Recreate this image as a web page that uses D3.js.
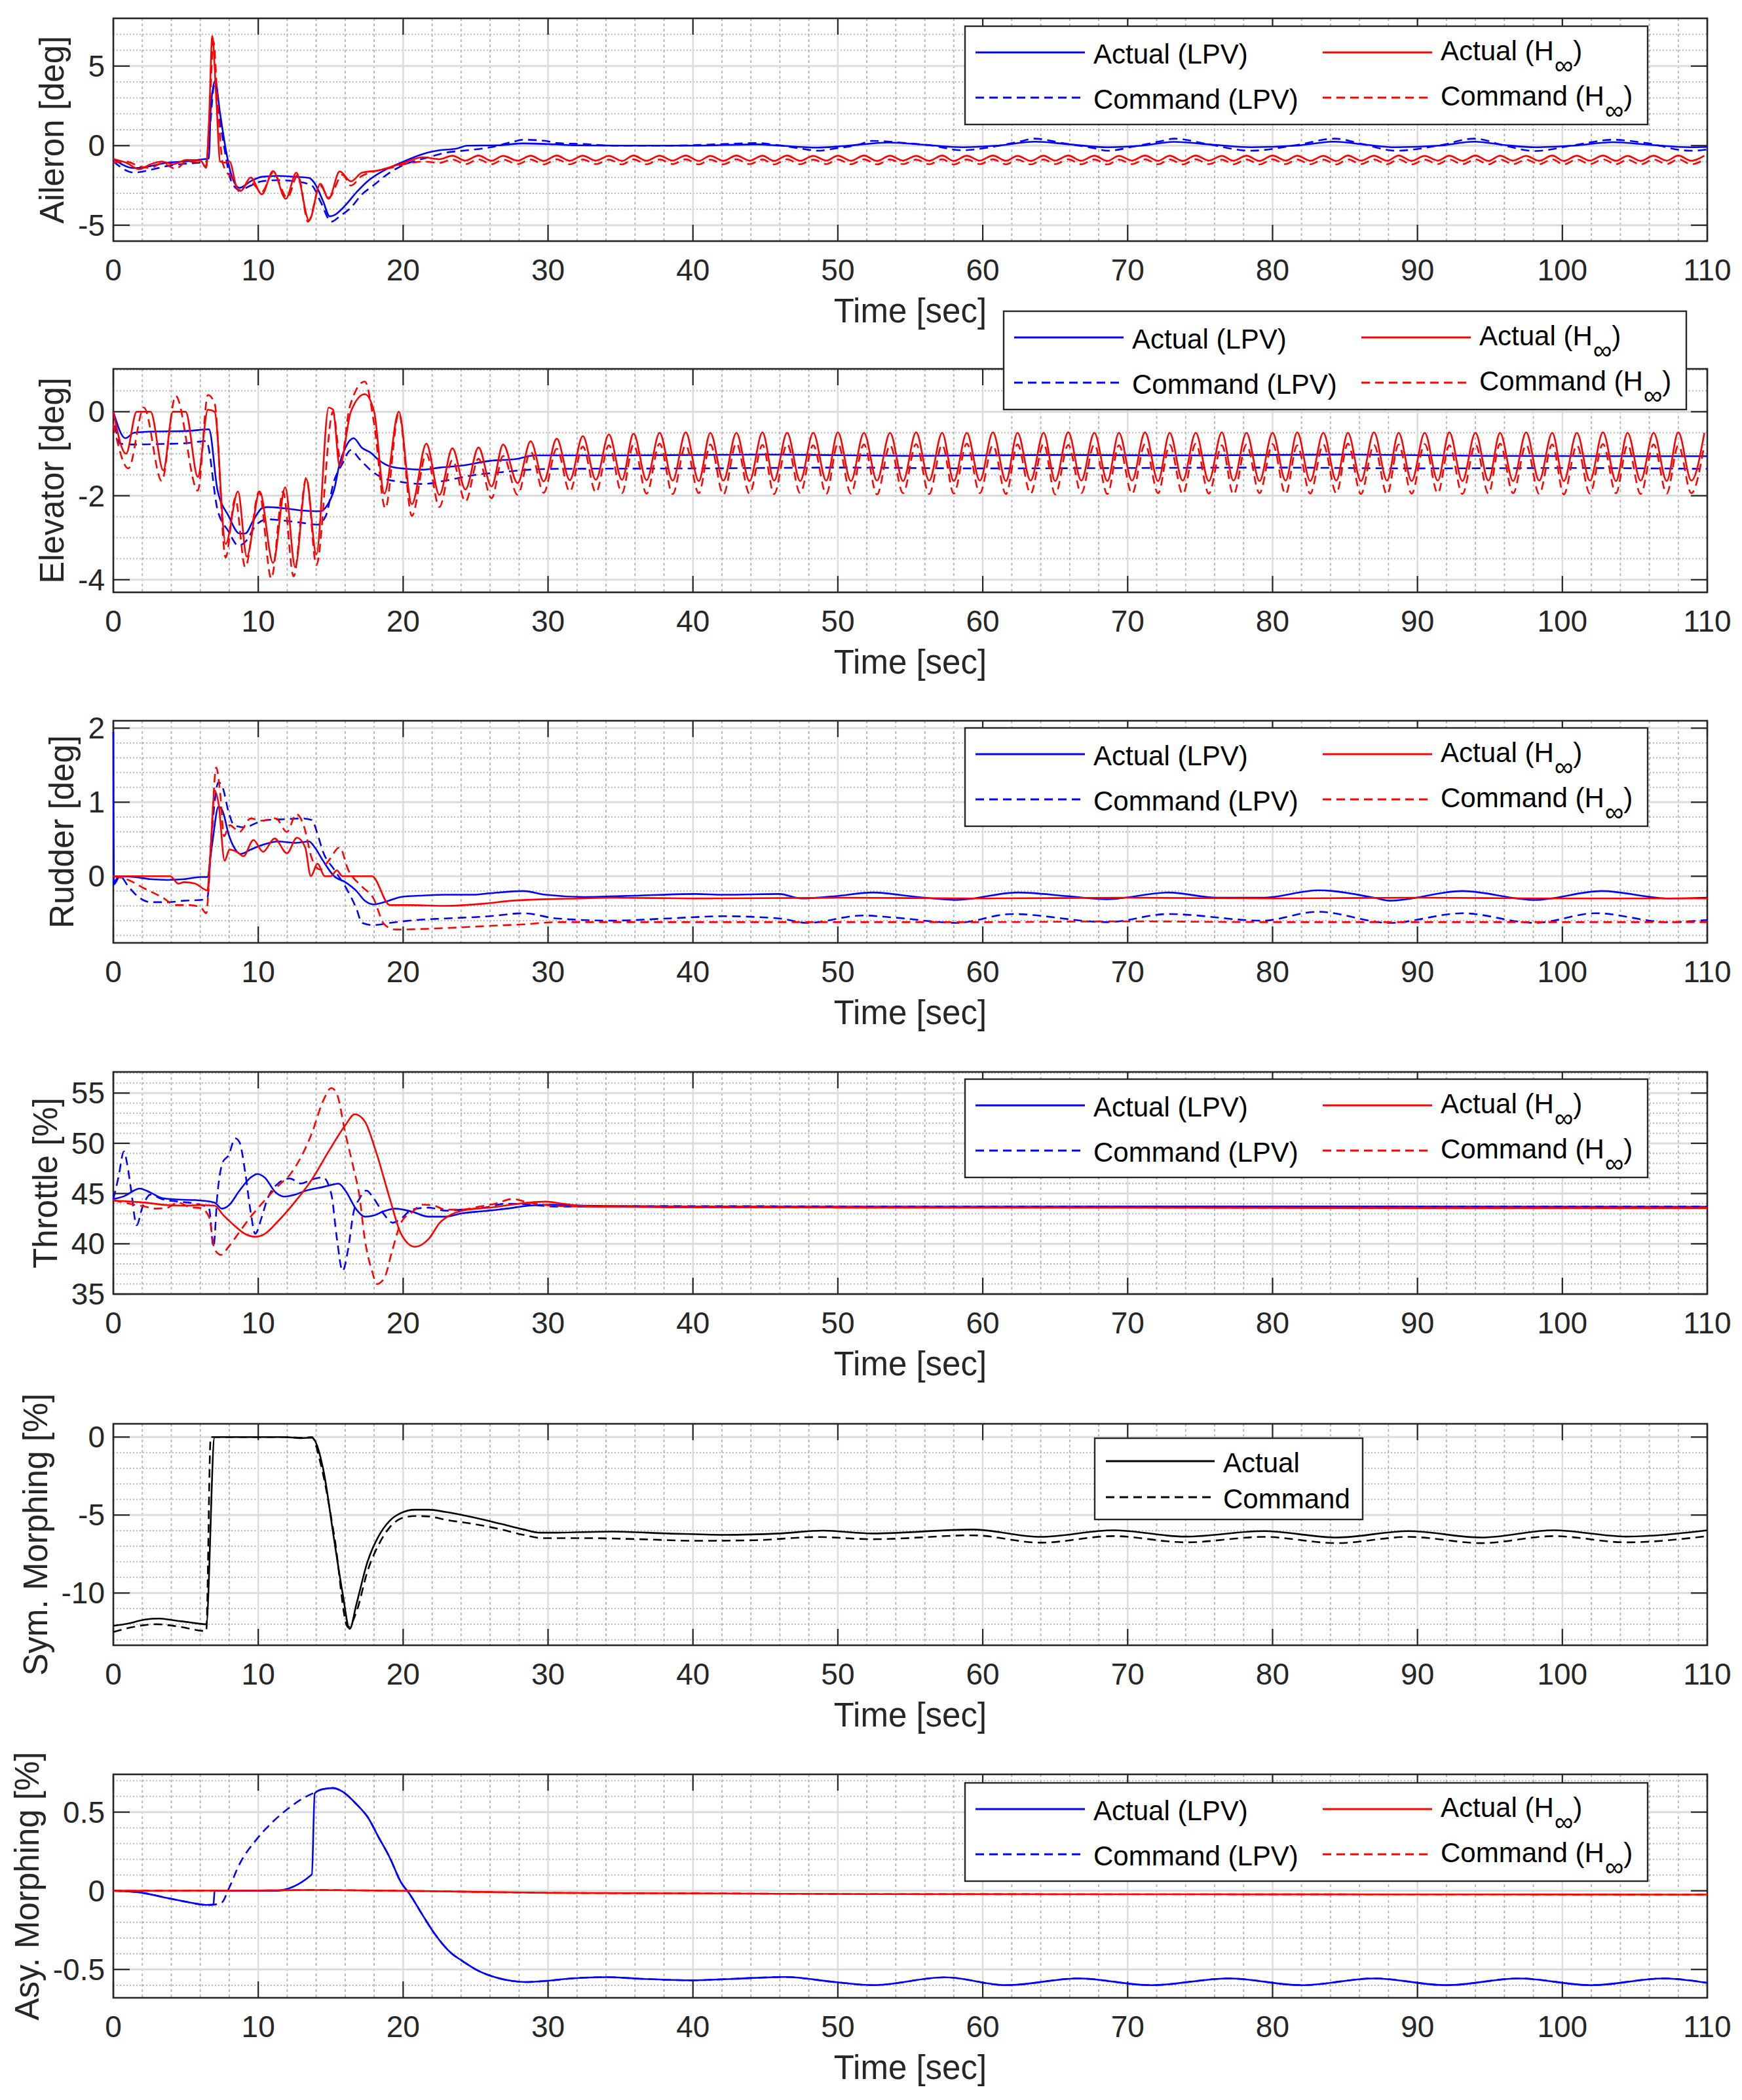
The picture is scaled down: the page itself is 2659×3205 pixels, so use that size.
<!DOCTYPE html>
<html>
<head>
<meta charset="utf-8">
<script src="https://cdn.jsdelivr.net/npm/d3@7"></script>
<style>
  body { margin: 0; background: #fff; }
</style>
</head>
<body>
<svg id="chart"></svg>
<script>
// ---------- Data ----------

// time axis
const timeTicks = [0, 10, 20, 30, 40, 50, 60, 70, 80, 90, 100, 110];

// peak / trough instants of the steady oscillation (shared by the H-inf tails)
const tOsc = [
  19.7, 20.6, 21.6, 22.5, 23.4, 24.3, 25.2, 26.1, 26.9, 27.9,
  28.8, 29.7, 30.6, 31.5, 32.4, 33.3, 34.2, 35.1, 35.9, 36.8,
  37.7, 38.6, 39.5, 40.4, 41.2, 42.1, 43.0, 43.9, 44.8, 45.6,
  46.5, 47.4, 48.3, 49.2, 50.0, 50.9, 51.8, 52.7, 53.6, 54.5,
  55.4, 56.3, 57.2, 58.0, 58.9, 59.8, 60.7, 61.6, 62.4, 63.3,
  64.2, 65.0, 65.9, 66.8, 67.7, 68.6, 69.4, 70.3, 71.2, 72.1,
  72.9, 73.8, 74.7, 75.6, 76.5, 77.3, 78.2, 79.1, 80.0, 80.9,
  81.7, 82.6, 83.5, 84.4, 85.2, 86.1, 87.0, 87.9, 88.7, 89.6,
  90.5, 91.4, 92.2, 93.1, 94.0, 94.9, 95.7, 96.6, 97.5, 98.4,
  99.3, 100.1, 101.0, 101.9, 102.8, 103.7, 104.5, 105.4, 106.3, 107.2,
  108.0, 108.9, 109.8
];

// Aileron [deg]
const aileronTicks = [-5, 0, 5];
const ailLpvAct = [[0,-0.84],[1.42,-1.41],[2.57,-1.28],[3.72,-1.07],[4.88,-1.0],[6.03,-0.87],[6.6,-0.8],[6.72,2.3],[7.02,4.08],[7.37,2.0],[7.75,-0.18],[8.14,-1.83],[8.71,-2.65],[9.48,-2.24],[10.25,-1.96],[11.4,-1.9],[12.55,-1.96],[13.51,-2.03],[13.9,-2.38],[14.47,-3.48],[14.93,-4.44],[15.24,-4.37],[16.01,-3.75],[16.78,-2.93],[17.54,-2.24],[18.7,-1.55],[19.85,-1.07],[21.38,-0.52],[22.53,-0.29],[23.69,-0.18],[24.45,0],[26.5,0.02],[28.3,0.14],[30.0,0.1],[32,0.02],[35,0],[40,0],[44.4,0.08],[46,0],[48.6,-0.12],[50.5,-0.02],[53.5,0.2],[56,0.05],[58.6,-0.1],[61,0],[63.6,0.25],[66,0.08],[68.6,-0.1],[71,0],[73.2,0.24],[76,0.05],[78.5,-0.1],[81.6,0],[84.3,0.25],[86.5,0.05],[88.5,-0.1],[91.5,0],[93.9,0.25],[96.2,0.02],[98.1,-0.1],[100.8,0],[103.5,0.22],[106,0.05],[108.8,-0.1],[110,-0.08]];
const ailLpvCmd = [[0,-1.0],[1.42,-1.69],[2.76,-1.48],[3.72,-1.28],[4.88,-1.14],[6.03,-1.07],[6.41,-1.0],[6.7,1.5],[6.95,3.74],[7.56,0.37],[8.14,-2.24],[8.71,-2.79],[9.48,-2.51],[10.25,-2.24],[11.4,-2.17],[12.55,-2.24],[13.7,-2.51],[14.28,-3.48],[15.05,-4.78],[15.62,-4.44],[16.39,-3.89],[17.16,-3.06],[17.93,-2.51],[19.08,-1.69],[20.23,-1.14],[21.77,-0.73],[22.92,-0.45],[24.45,-0.29],[25.99,-0.11],[27.52,0.23],[28.29,0.37],[29.83,0.3],[30.6,0.16],[32.5,0.1],[34.4,0],[38.3,0],[42.1,0.1],[44.4,0.16],[45.9,0.03],[47.9,-0.25],[48.6,-0.32],[49.8,-0.18],[51.3,0.03],[52.4,0.3],[54.7,0.16],[56.3,0.03],[58.6,-0.29],[60.9,-0.04],[62.4,0.23],[63.6,0.44],[65.5,0.16],[67.8,-0.18],[68.6,-0.32],[70.5,-0.04],[72.4,0.3],[73.2,0.44],[75.5,0.1],[78.5,-0.32],[81.6,0.03],[84.3,0.44],[86.2,0.1],[88.5,-0.32],[91.6,0.03],[93.9,0.44],[96.2,-0.04],[98.1,-0.34],[100.8,0.03],[103.5,0.37],[105.8,0.16],[108.8,-0.32],[110,-0.25]];
const ailHinfActHead = [[0,-0.84],[0.88,-1.07],[1.8,-1.48],[2.57,-1.17],[3.34,-1.0],[4.11,-1.17],[5.07,-0.9],[6.03,-0.95],[6.41,-1.4],[6.6,1.5],[6.83,6.9],[7.1,3.0],[7.37,-1.0],[7.75,-1.07],[8.02,-1.0],[8.52,-2.65],[8.79,-2.85],[9.48,-2.0],[10.25,-3.06],[11.02,-1.6],[11.9,-3.34],[12.63,-1.7],[13.51,-4.7],[14.28,-2.4],[14.86,-3.34],[15.62,-1.62],[16.39,-2.24],[17.16,-1.7],[18.31,-1.55],[19.85,-1.14],[21.38,-0.73]];
const ailHinfActOsc = [
  -0.85, -0.63, -0.94, -0.62, -0.95, -0.64, -0.94, -0.63, -0.96, -0.62,
  -0.95, -0.63, -0.94, -0.64, -0.96, -0.62, -0.95, -0.63, -0.94, -0.62,
  -0.96, -0.64, -0.95, -0.62, -0.94, -0.63, -0.96, -0.62, -0.95, -0.64,
  -0.94, -0.63, -0.95, -0.62, -0.96, -0.63, -0.94, -0.64, -0.95, -0.62,
  -0.96, -0.63, -0.94, -0.62, -0.95, -0.64, -0.96, -0.63, -0.94, -0.62,
  -0.95, -0.63, -0.96, -0.64, -0.94, -0.62, -0.95, -0.63, -0.96, -0.62,
  -0.94, -0.64, -0.95, -0.63, -0.96, -0.62, -0.94, -0.63, -0.95, -0.64,
  -0.96, -0.62, -0.94, -0.63, -0.95, -0.62, -0.96, -0.64, -0.94, -0.63,
  -0.95, -0.62, -0.96, -0.63, -0.94, -0.64, -0.95, -0.62, -0.96, -0.63,
  -0.94, -0.62, -0.95, -0.64, -0.96, -0.63, -0.94, -0.62, -0.95, -0.63
];
const ailHinfCmdHead = [[0,-1.07],[0.88,-1.0],[1.8,-1.3],[2.57,-1.4],[3.34,-1.1],[4.3,-1.45],[5.07,-1.0],[6.03,-1.1],[6.41,-1.3],[6.6,1.2],[6.91,6.55],[7.18,3.0],[7.56,-1.14],[8.33,-2.24],[8.71,-2.9],[9.4,-2.24],[10.25,-2.9],[11.02,-1.69],[12.0,-3.27],[12.74,-1.83],[13.44,-4.78],[14.28,-2.51],[14.86,-3.27],[15.82,-1.83],[16.39,-2.51],[17.16,-1.9],[19.08,-1.41],[20.61,-1.07],[21.38,-1.0]];
const ailHinfCmdOsc = [
  -1.08, -0.87, -1.16, -0.86, -1.17, -0.88, -1.16, -0.87, -1.18, -0.86,
  -1.17, -0.87, -1.16, -0.88, -1.18, -0.86, -1.17, -0.87, -1.16, -0.86,
  -1.18, -0.88, -1.17, -0.86, -1.16, -0.87, -1.18, -0.86, -1.17, -0.88,
  -1.16, -0.87, -1.17, -0.86, -1.18, -0.87, -1.16, -0.88, -1.17, -0.86,
  -1.18, -0.87, -1.16, -0.86, -1.17, -0.88, -1.18, -0.87, -1.16, -0.86,
  -1.17, -0.87, -1.18, -0.88, -1.16, -0.86, -1.17, -0.87, -1.18, -0.86,
  -1.16, -0.88, -1.17, -0.87, -1.18, -0.86, -1.16, -0.87, -1.17, -0.88,
  -1.18, -0.86, -1.16, -0.87, -1.17, -0.86, -1.18, -0.88, -1.16, -0.87,
  -1.17, -0.86, -1.18, -0.87, -1.16, -0.88, -1.17, -0.86, -1.18, -0.87,
  -1.16, -0.86, -1.17, -0.88, -1.18, -0.87, -1.16, -0.86, -1.17, -0.87
];

// Elevator [deg]
const elevatorTicks = [-4, -2, 0];
const elevLpvAct = [[0,0],[0.84,-0.63],[1.42,-0.5],[3,-0.47],[5,-0.46],[6.6,-0.42],[7.18,-1.85],[7.95,-2.48],[8.71,-2.9],[9.1,-2.9],[9.67,-2.58],[10.25,-2.3],[10.63,-2.27],[11.79,-2.3],[12.94,-2.35],[14.28,-2.37],[14.86,-2.17],[15.24,-1.85],[15.62,-1.23],[16.01,-0.86],[16.58,-0.63],[17.16,-0.86],[17.74,-0.97],[18.31,-1.15],[19.08,-1.3],[20.23,-1.36],[21.38,-1.38],[22.53,-1.33],[24.07,-1.28],[25.99,-1.17],[27.91,-1.12],[29.06,-1.04],[35,-1.04],[45,-1.02],[55,-1.05],[65,-1.03],[75,-1.04],[85,-1.02],[95,-1.05],[110,-1.06]];
const elevLpvCmd = [[0,0],[0.46,-0.76],[1.23,-0.78],[3,-0.77],[5,-0.75],[6.41,-0.7],[7.18,-2.32],[7.95,-2.85],[8.64,-3.19],[9.1,-3.1],[9.87,-2.69],[10.63,-2.56],[11.4,-2.58],[12.94,-2.64],[14.09,-2.69],[14.66,-2.48],[15.24,-1.64],[15.82,-1.23],[16.39,-0.91],[16.97,-1.12],[17.93,-1.44],[18.7,-1.59],[19.85,-1.67],[21.38,-1.72],[22.92,-1.64],[24.84,-1.51],[26.76,-1.44],[28.68,-1.38],[30.6,-1.36],[40,-1.35],[50,-1.33],[60,-1.35],[70,-1.34],[80,-1.33],[90,-1.35],[100,-1.34],[110,-1.36]];
const elevHinfActHead = [[0,0],[0.88,-1.0],[1.61,0],[2.57,0],[3.45,-1.4],[4.11,0],[4.99,0],[5.83,-1.55],[6.53,0.05],[6.99,0],[7.75,-3.15],[8.6,-1.9],[9.21,-3.45],[10.1,-1.9],[11.02,-3.6],[11.86,-1.8],[12.55,-3.7],[13.32,-1.6],[14.01,-3.4],[14.86,0.1],[15.16,0.05],[15.62,-1.3],[16.39,0],[17.35,0.42],[18.0,0],[18.7,-1.95]];
const elevHinfActOsc = [
  0, -2.2, -0.76, -1.98, -0.87, -1.85, -0.85, -1.78, -0.78, -1.7,
  -0.7, -1.66, -0.64, -1.63, -0.58, -1.62, -0.54, -1.62, -0.52, -1.63,
  -0.5, -1.64, -0.49, -1.65, -0.5, -1.64, -0.5, -1.65, -0.49, -1.64,
  -0.5, -1.65, -0.5, -1.64, -0.49, -1.65, -0.5, -1.64, -0.5, -1.65,
  -0.49, -1.64, -0.5, -1.65, -0.5, -1.64, -0.49, -1.65, -0.5, -1.64,
  -0.5, -1.65, -0.49, -1.64, -0.5, -1.65, -0.5, -1.64, -0.49, -1.65,
  -0.5, -1.64, -0.5, -1.65, -0.49, -1.64, -0.5, -1.65, -0.5, -1.64,
  -0.49, -1.65, -0.5, -1.64, -0.5, -1.65, -0.49, -1.64, -0.5, -1.65,
  -0.5, -1.64, -0.49, -1.65, -0.5, -1.64, -0.5, -1.65, -0.49, -1.64,
  -0.5, -1.65, -0.5, -1.64, -0.49, -1.65, -0.5, -1.64, -0.5, -1.65,
  -0.49, -1.64, -0.5
];
const elevHinfCmdHead = [[0,-0.3],[1.04,-1.35],[2.11,0.1],[3.34,-1.65],[4.3,0.38],[5.83,-1.88],[6.53,0.4],[6.99,0.2],[7.75,-3.47],[8.41,-2.06],[9.1,-3.7],[10.06,-1.9],[10.9,-3.97],[11.71,-1.9],[12.44,-3.92],[13.32,-1.57],[14.01,-3.65],[15.16,0],[15.7,-1.2],[16.3,0.1],[17.35,0.72],[18.0,-0.3],[18.77,-2.3]];
const elevHinfCmdOsc = [
  -0.03, -2.48, -1.0, -2.27, -1.15, -2.14, -1.12, -2.06, -1.05, -1.98,
  -0.95, -1.93, -0.88, -1.9, -0.83, -1.92, -0.8, -1.94, -0.78, -1.95,
  -0.76, -1.96, -0.8, -1.94, -0.78, -1.97, -0.75, -1.95, -0.79, -1.96,
  -0.77, -1.94, -0.8, -1.96, -0.76, -1.95, -0.78, -1.97, -0.8, -1.94,
  -0.77, -1.96, -0.79, -1.95, -0.76, -1.94, -0.8, -1.96, -0.78, -1.95,
  -0.76, -1.97, -0.79, -1.94, -0.78, -1.96, -0.8, -1.95, -0.77, -1.94,
  -0.79, -1.96, -0.76, -1.95, -0.8, -1.97, -0.78, -1.94, -0.77, -1.96,
  -0.8, -1.95, -0.78, -1.94, -0.76, -1.96, -0.79, -1.97, -0.78, -1.95,
  -0.77, -1.94, -0.8, -1.96, -0.78, -1.95, -0.76, -1.94, -0.79, -1.96,
  -0.78, -1.97, -0.8, -1.95, -0.77, -1.94, -0.79, -1.96, -0.78, -1.95,
  -0.8, -1.94, -0.78
];

// Rudder [deg]
const rudderTicks = [0, 1, 2];
const rudLpvAct = [[0,1.95],[0.04,-0.11],[0.46,0],[1.42,-0.01],[2.57,-0.04],[3.72,-0.05],[4.88,-0.04],[6.03,-0.01],[6.49,-0.01],[6.79,0.39],[7.26,0.94],[7.56,0.87],[7.95,0.57],[8.33,0.39],[8.79,0.3],[9.48,0.36],[10.25,0.42],[11.4,0.47],[12.55,0.45],[13.51,0.47],[13.9,0.39],[14.47,0.21],[15.24,0],[16.01,-0.08],[16.78,-0.2],[17.35,-0.33],[17.93,-0.38],[18.7,-0.35],[19.85,-0.28],[21.38,-0.26],[22.92,-0.25],[24.84,-0.25],[25.99,-0.23],[28.29,-0.2],[29.83,-0.25],[32.5,-0.28],[36.35,-0.26],[40.19,-0.24],[42.1,-0.25],[45.95,-0.24],[47.49,-0.3],[49.8,-0.27],[52.4,-0.22],[55.5,-0.28],[58.2,-0.32],[62.4,-0.22],[65.9,-0.27],[68.6,-0.31],[72.8,-0.22],[76.2,-0.29],[79.3,-0.29],[83.2,-0.19],[87.0,-0.29],[88.1,-0.33],[93.1,-0.2],[98.1,-0.32],[102.7,-0.2],[107.3,-0.3],[110,-0.29]];
const rudLpvCmd = [[0,-0.11],[0.46,0],[1.04,-0.14],[1.61,-0.26],[2.57,-0.35],[3.72,-0.35],[4.88,-0.33],[6.03,-0.32],[6.49,-0.29],[6.79,0.57],[7.26,1.27],[7.56,1.19],[7.95,0.87],[8.33,0.69],[9.1,0.66],[9.87,0.72],[10.63,0.76],[11.79,0.77],[12.94,0.78],[13.7,0.76],[14.09,0.57],[14.47,0.33],[15.24,0.09],[16.01,-0.14],[16.78,-0.44],[17.16,-0.63],[17.93,-0.66],[19.08,-0.63],[21.0,-0.59],[22.92,-0.57],[25.99,-0.54],[28.29,-0.5],[30.6,-0.57],[34.4,-0.6],[38.3,-0.57],[42.1,-0.54],[45.95,-0.57],[47.9,-0.63],[51.7,-0.53],[54.0,-0.56],[58.2,-0.63],[62.0,-0.51],[68.6,-0.62],[72.8,-0.51],[79.3,-0.6],[83.1,-0.48],[88.1,-0.63],[93.1,-0.5],[98.1,-0.63],[102.3,-0.5],[107.3,-0.62],[110,-0.59]];
const rudHinfAct = [[0,0],[3.92,0],[4.49,-0.1],[4.88,-0.08],[5.64,-0.1],[6.49,-0.19],[6.72,0.39],[6.99,1.16],[7.26,0.98],[7.68,0.21],[8.02,0.36],[8.52,0.33],[8.98,0.27],[9.67,0.49],[10.33,0.33],[11.13,0.51],[11.98,0.31],[12.67,0.52],[13.24,0.39],[13.63,0],[14.09,0.17],[14.59,0],[15.0,0],[15.43,0.08],[15.8,0],[17.85,0],[19.08,-0.39],[20.61,-0.39],[22.92,-0.4],[25.6,-0.37],[27.52,-0.33],[29.83,-0.31],[32.13,-0.3],[34.43,-0.29],[40,-0.3],[50,-0.29],[60,-0.3],[70,-0.29],[80,-0.3],[90,-0.29],[100,-0.3],[110,-0.3]];
const rudHinfCmd = [[0,0],[1.04,-0.05],[2.19,-0.17],[3.34,-0.28],[4.3,-0.39],[5.26,-0.39],[6.03,-0.42],[6.41,-0.5],[6.72,0.39],[7.1,1.47],[7.37,1.13],[7.64,0.54],[8.02,0.69],[8.71,0.6],[9.48,0.78],[10.25,0.75],[11.21,0.78],[11.98,0.6],[12.63,0.84],[13.13,0.69],[13.7,0.24],[14.28,0.09],[14.86,0.21],[15.62,0.39],[16.2,0.09],[17.16,-0.14],[17.93,-0.29],[18.7,-0.65],[19.46,-0.72],[22.92,-0.7],[25.99,-0.67],[28.29,-0.65],[30.6,-0.62],[40,-0.62],[50,-0.62],[60,-0.62],[70,-0.61],[80,-0.62],[90,-0.62],[100,-0.62],[110,-0.62]];

// Throttle [%]
const throttleTicks = [35, 40, 45, 50, 55];
const thrLpvAct = [[0,44.45],[0.84,44.8],[1.42,45.3],[1.8,45.5],[2.57,45.1],[3.34,44.55],[4.49,44.4],[5.64,44.35],[6.99,44.1],[7.49,43.5],[7.95,43.8],[8.71,45.3],[9.48,46.6],[9.94,46.95],[10.44,46.6],[11.21,45.1],[11.79,44.7],[12.55,44.9],[13.32,45.3],[14.47,45.65],[15.55,45.98],[16.01,45.3],[16.78,43.4],[17.35,42.7],[17.93,42.8],[18.7,43.26],[19.46,43.5],[20.61,43.2],[21.77,42.7],[22.92,42.7],[24.07,43.04],[25.6,43.26],[27.14,43.5],[28.68,43.8],[30.21,43.9],[32.51,43.8],[34.43,43.76],[40,43.72],[60,43.7],[80,43.72],[110,43.68]];
const thrLpvCmd = [[0,44.45],[0.35,46.6],[0.73,49.2],[0.96,47.9],[1.23,45.3],[1.61,41.85],[2.0,43.6],[2.57,44.9],[3.34,44.45],[4.49,44.2],[5.64,44.0],[6.6,43.55],[6.91,39.7],[7.18,44.9],[7.56,48.15],[7.95,48.8],[8.41,50.5],[8.71,50.1],[9.1,47.1],[9.48,43.15],[9.79,41.0],[10.25,42.7],[10.63,44.45],[11.21,45.8],[12.17,46.5],[12.94,46.0],[13.7,46.4],[14.47,46.6],[15.05,44.9],[15.43,40.5],[15.82,37.3],[16.2,39.45],[16.58,43.15],[16.97,44.45],[17.47,45.3],[17.93,44.6],[18.7,42.9],[19.27,42.1],[19.85,42.5],[20.61,43.4],[21.77,43.6],[22.92,43.3],[24.07,43.4],[25.6,43.6],[27.14,44.0],[28.68,43.9],[30.6,43.7],[40,43.75],[60,43.7],[80,43.7],[110,43.7]];
const thrHinfAct = [[0,44.3],[2.19,44.1],[3.72,43.85],[4.88,43.8],[6.03,43.85],[6.99,43.8],[7.56,42.9],[8.33,41.85],[9.1,40.98],[9.79,40.7],[10.44,40.98],[11.4,42.3],[12.55,44.2],[13.7,46.4],[14.86,49.2],[16.01,51.8],[16.66,52.9],[17.35,52.2],[18.12,49.2],[19.08,44.5],[19.85,41.0],[20.81,39.7],[21.77,40.5],[22.53,42.1],[23.3,42.9],[24.45,43.4],[25.99,43.6],[27.52,43.9],[28.68,44.1],[29.83,44.2],[30.98,44.0],[32.51,43.76],[34.43,43.7],[38.27,43.63],[50,43.6],[70,43.6],[90,43.55],[110,43.55]];
const thrHinfCmd = [[0,44.35],[1.42,43.9],[2.19,43.7],[2.96,43.5],[3.72,43.6],[4.49,44.1],[5.26,43.65],[6.03,43.55],[6.6,42.7],[6.99,39.45],[7.45,38.9],[7.95,39.7],[8.71,41.2],[9.48,42.7],[10.25,44.0],[11.4,45.8],[12.17,46.85],[12.94,48.6],[13.7,51.0],[14.47,54.2],[15.05,55.5],[15.43,54.9],[16.01,51.0],[16.58,47.5],[16.97,44.9],[17.35,40.5],[17.85,37.3],[18.2,36.0],[18.7,36.6],[19.27,39.45],[19.85,42.1],[20.61,43.15],[21.38,43.9],[22.15,43.8],[22.92,43.4],[24.07,43.4],[25.22,43.7],[26.37,44.0],[27.52,44.45],[28.68,44.1],[30.21,43.8],[32.51,43.7],[40,43.7],[60,43.65],[80,43.6],[110,43.6]];

// Sym. Morphing [%]
const symTicks = [-10, -5, 0];
const symAct = [[0,-12.1],[1.04,-11.95],[2.19,-11.7],[3.15,-11.64],[4.11,-11.74],[5.26,-11.88],[6.41,-12.0],[6.99,0],[11.79,0],[12.94,-0.07],[13.7,-0.04],[14.47,-2.0],[15.24,-6.6],[15.82,-10.0],[16.31,-12.3],[16.78,-10.7],[17.54,-8.0],[18.31,-6.35],[19.08,-5.36],[19.85,-4.87],[20.81,-4.66],[21.77,-4.66],[22.92,-4.8],[24.84,-5.15],[26.76,-5.57],[28.29,-5.92],[29.44,-6.13],[30.6,-6.13],[34.43,-6.06],[38.27,-6.18],[42.11,-6.27],[45.95,-6.18],[49.0,-6.0],[52.4,-6.18],[59.3,-5.93],[64.0,-6.4],[69.0,-5.98],[74.0,-6.38],[79.4,-6.03],[84.4,-6.44],[89.4,-6.03],[94.4,-6.44],[99.4,-5.98],[104.4,-6.38],[110,-5.98]];
const symCmd = [[0,-12.5],[1.8,-12.1],[2.96,-12.0],[4.49,-12.15],[6.41,-12.44],[6.72,0],[11.79,0],[13.0,-0.05],[13.7,0],[14.28,-1.6],[15.24,-6.3],[16.2,-12.2],[16.78,-11.2],[17.54,-8.6],[18.31,-6.9],[19.08,-5.78],[19.85,-5.22],[20.81,-5.06],[21.77,-5.09],[22.92,-5.3],[24.84,-5.57],[26.76,-5.92],[28.29,-6.27],[29.64,-6.48],[32.5,-6.48],[36.35,-6.55],[40.19,-6.65],[44.03,-6.62],[48.64,-6.41],[52.4,-6.55],[59.3,-6.3],[64,-6.77],[69,-6.35],[74,-6.75],[79.4,-6.4],[84.4,-6.8],[89.4,-6.4],[94.4,-6.8],[99.4,-6.35],[104.4,-6.75],[110,-6.35]];

// Asy. Morphing [%]
const asyTicks = [-0.5, 0, 0.5];
const asyLpvAct = [[0,0],[1.8,-0.01],[3.72,-0.046],[5.26,-0.074],[6.41,-0.09],[6.91,-0.088],[6.99,0],[11.13,0],[13.7,0.104],[13.9,0.62],[14.47,0.646],[15.16,0.653],[15.82,0.63],[16.78,0.55],[17.54,0.47],[18.31,0.34],[19.08,0.21],[19.85,0.054],[20.42,-0.017],[21.38,-0.16],[22.15,-0.27],[23.3,-0.395],[24.07,-0.445],[25.22,-0.51],[26.37,-0.55],[27.52,-0.573],[28.48,-0.58],[29.83,-0.573],[31.75,-0.556],[34.05,-0.549],[36.35,-0.559],[39.81,-0.569],[42.88,-0.559],[46.33,-0.548],[49.79,-0.58],[52.4,-0.6],[57.4,-0.55],[61.6,-0.6],[66.6,-0.557],[71.6,-0.6],[77.0,-0.557],[82,-0.6],[87,-0.557],[92,-0.6],[97,-0.557],[102,-0.6],[107,-0.557],[110,-0.585]];
const asyLpvCmd = [[0,0],[1.8,-0.01],[3.72,-0.046],[5.26,-0.074],[6.41,-0.09],[6.91,-0.088],[7.49,-0.074],[7.95,0.01],[8.71,0.17],[9.87,0.325],[11.02,0.44],[12.17,0.53],[13.13,0.59],[13.78,0.62],[14.47,0.646],[15.16,0.653],[15.82,0.63],[16.78,0.55],[17.54,0.47],[18.31,0.34],[19.08,0.21],[19.85,0.054],[20.42,-0.017],[21.38,-0.16],[22.15,-0.27],[23.3,-0.395],[24.07,-0.445],[25.22,-0.51],[26.37,-0.55],[27.52,-0.573],[28.48,-0.58],[29.83,-0.573],[31.75,-0.556],[34.05,-0.549],[36.35,-0.559],[39.81,-0.569],[42.88,-0.559],[46.33,-0.548],[49.79,-0.58],[52.4,-0.6],[57.4,-0.55],[61.6,-0.6],[66.6,-0.557],[71.6,-0.6],[77.0,-0.557],[82,-0.6],[87,-0.557],[92,-0.6],[97,-0.557],[102,-0.6],[107,-0.557],[110,-0.585]];
const asyHinfAct = [[0,0],[10,0.002],[13.7,0.005],[20,0],[30,-0.013],[42,-0.017],[52,-0.021],[70,-0.022],[90,-0.023],[110,-0.024]];
const asyHinfCmd = [[0,0],[10,0.002],[13.7,0.005],[20,0],[30,-0.013],[42,-0.017],[52,-0.021],[70,-0.022],[90,-0.023],[110,-0.024]];

// legend texts
const legendFour = [
  { main: "Actual (LPV)" },
  { main: "Actual (H", sub: "\u221E" },
  { main: "Command (LPV)" },
  { main: "Command (H", sub: "\u221E" }
];
const legendTwo = [{ main: "Actual" }, { main: "Command" }];

// ---------- Layout ----------
const W = 2659, H = 3205;
const PLOT_LEFT = 173, PLOT_RIGHT = 2606;
const FONT = "'Liberation Sans', Arial, Helvetica, sans-serif";
const AXIS_COLOR = "#262626";
const BLUE = "#0000ff", RED = "#ff0000", BLACK = "#000000";
const DASH = "13,8";
const TICK_LEN = 25;

function oscTail(vals) {
  const off = tOsc.length - vals.length;
  return vals.map((v, i) => [tOsc[off + i], v]);
}

const fourSeries = (la, lc, ha, hc) => [
  { data: la, color: BLUE, dashed: false },
  { data: lc, color: BLUE, dashed: true },
  { data: ha, color: RED, dashed: false },
  { data: hc, color: RED, dashed: true }
];

const panels = [
  { top: 28, bottom: 368, yDomain: [-6, 8], yTicks: aileronTicks, minor: 1, label: "Aileron [deg]",
    series: fourSeries(ailLpvAct, ailLpvCmd,
      ailHinfActHead.concat(oscTail(ailHinfActOsc)),
      ailHinfCmdHead.concat(oscTail(ailHinfCmdOsc))),
    legend: { kind: "four", x: 1473, y: 40 } },
  { top: 563, bottom: 904, yDomain: [-4.3, 1.02], yTicks: elevatorTicks, minor: 0.5, label: "Elevator [deg]",
    series: fourSeries(elevLpvAct, elevLpvCmd,
      elevHinfActHead.concat(oscTail(elevHinfActOsc)),
      elevHinfCmdHead.concat(oscTail(elevHinfCmdOsc))),
    legend: { kind: "four", x: 1532, y: 475 } },
  { top: 1100, bottom: 1439, yDomain: [-0.9, 2.1], yTicks: rudderTicks, minor: 0.2, label: "Rudder [deg]",
    series: fourSeries(rudLpvAct, rudLpvCmd, rudHinfAct, rudHinfCmd),
    legend: { kind: "four", x: 1473, y: 1111 } },
  { top: 1636, bottom: 1975, yDomain: [35, 57.1], yTicks: throttleTicks, minor: 1, label: "Throttle [%]",
    series: fourSeries(thrLpvAct, thrLpvCmd, thrHinfAct, thrHinfCmd),
    legend: { kind: "four", x: 1473, y: 1647 } },
  { top: 2173, bottom: 2511, yDomain: [-13.35, 0.85], yTicks: symTicks, minor: 1, label: "Sym. Morphing [%]",
    series: [
      { data: symAct, color: BLACK, dashed: false },
      { data: symCmd, color: BLACK, dashed: true }
    ],
    legend: { kind: "two", x: 1671, y: 2195 } },
  { top: 2708, bottom: 3049, yDomain: [-0.68, 0.74], yTicks: asyTicks, minor: 0.1, label: "Asy. Morphing [%]",
    series: fourSeries(asyLpvAct, asyLpvCmd, asyHinfAct, asyHinfCmd),
    legend: { kind: "four", x: 1473, y: 2721 } }
];

// ---------- Drawing ----------
const svg = d3.select("#chart")
  .attr("width", W)
  .attr("height", H)
  .attr("viewBox", `0 0 ${W} ${H}`)
  .style("font-family", FONT);

svg.append("rect").attr("width", W).attr("height", H).attr("fill", "#fff");

const x = d3.scaleLinear().domain([0, 110]).range([PLOT_LEFT, PLOT_RIGHT]);

panels.forEach((p, i) => {
  const y = d3.scaleLinear().domain(p.yDomain).range([p.bottom, p.top]);
  const g = svg.append("g");
  const plotW = PLOT_RIGHT - PLOT_LEFT;
  const plotH = p.bottom - p.top;

  // clip (a little wider so lines on the border stay visible)
  const clipId = "clip-" + i;
  svg.append("clipPath").attr("id", clipId)
    .append("rect")
    .attr("x", PLOT_LEFT - 2).attr("y", p.top)
    .attr("width", plotW + 4).attr("height", plotH);

  // minor grid
  const xMinor = d3.range(2, 110, 2).filter((t) => t % 10 !== 0);
  const [lo, hi] = p.yDomain;
  const yMinor = d3.range(Math.ceil(lo / p.minor - 1e-6), Math.floor(hi / p.minor + 1e-6) + 1)
    .map((k) => +(k * p.minor).toFixed(4))
    .filter((v) => !p.yTicks.some((t) => Math.abs(t - v) < p.minor / 10))
    .filter((v) => v > lo + 1e-6 && v < hi - 1e-6);

  g.selectAll(".xminor").data(xMinor).join("line")
    .attr("x1", (d) => x(d)).attr("x2", (d) => x(d))
    .attr("y1", p.top).attr("y2", p.bottom)
    .attr("stroke", "#b3b3b3").attr("stroke-width", 1.8)
    .attr("stroke-dasharray", "4,4");

  g.selectAll(".yminor").data(yMinor).join("line")
    .attr("x1", PLOT_LEFT).attr("x2", PLOT_RIGHT)
    .attr("y1", (d) => y(d)).attr("y2", (d) => y(d))
    .attr("stroke", "#b3b3b3").attr("stroke-width", 1.8)
    .attr("stroke-dasharray", "2,3");

  // major grid
  g.selectAll(".xmajor").data(timeTicks.slice(1, -1)).join("line")
    .attr("x1", (d) => x(d)).attr("x2", (d) => x(d))
    .attr("y1", p.top).attr("y2", p.bottom)
    .attr("stroke", "#dcdcdc").attr("stroke-width", 2.5);

  g.selectAll(".ymajor").data(p.yTicks).join("line")
    .attr("x1", PLOT_LEFT).attr("x2", PLOT_RIGHT)
    .attr("y1", (d) => y(d)).attr("y2", (d) => y(d))
    .attr("stroke", "#dcdcdc").attr("stroke-width", 3);

  // ticks (inside, all four sides) — axes layer sits under the data
  const ticks = g.append("g").attr("stroke", AXIS_COLOR).attr("stroke-width", 2.2);
  timeTicks.forEach((t) => {
    ticks.append("line").attr("x1", x(t)).attr("x2", x(t)).attr("y1", p.bottom).attr("y2", p.bottom - TICK_LEN);
    ticks.append("line").attr("x1", x(t)).attr("x2", x(t)).attr("y1", p.top).attr("y2", p.top + TICK_LEN);
  });
  p.yTicks.forEach((v) => {
    ticks.append("line").attr("x1", PLOT_LEFT).attr("x2", PLOT_LEFT + TICK_LEN).attr("y1", y(v)).attr("y2", y(v));
    ticks.append("line").attr("x1", PLOT_RIGHT).attr("x2", PLOT_RIGHT - TICK_LEN).attr("y1", y(v)).attr("y2", y(v));
  });

  // box
  g.append("rect")
    .attr("x", PLOT_LEFT).attr("y", p.top)
    .attr("width", plotW).attr("height", plotH)
    .attr("fill", "none").attr("stroke", AXIS_COLOR).attr("stroke-width", 2.6);

  // data lines
  const line = d3.line()
    .x((d) => x(d[0]))
    .y((d) => y(d[1]))
    .curve(d3.curveMonotoneX);

  const lines = g.append("g").attr("clip-path", `url(#${clipId})`);
  p.series.forEach((s) => {
    lines.append("path")
      .datum(s.data)
      .attr("d", line)
      .attr("fill", "none")
      .attr("stroke", s.color)
      .attr("stroke-width", 2.6)
      .attr("stroke-linejoin", "round")
      .attr("stroke-dasharray", s.dashed ? DASH : null);
  });

  // x tick labels
  g.selectAll(".xlab").data(timeTicks).join("text")
    .attr("x", (d) => x(d)).attr("y", p.bottom + 60)
    .attr("text-anchor", "middle")
    .attr("font-size", 46).attr("fill", AXIS_COLOR)
    .text((d) => String(d));

  // y tick labels
  const yLabs = g.selectAll(".ylab").data(p.yTicks).join("text")
    .attr("x", PLOT_LEFT - 13).attr("y", (d) => y(d) + 16)
    .attr("text-anchor", "end")
    .attr("font-size", 46).attr("fill", AXIS_COLOR)
    .text((d) => String(d));

  let maxW = 0;
  yLabs.each(function () { maxW = Math.max(maxW, this.getComputedTextLength()); });

  // axis titles
  g.append("text")
    .attr("x", (PLOT_LEFT + PLOT_RIGHT) / 2).attr("y", p.bottom + 124)
    .attr("text-anchor", "middle")
    .attr("font-size", 51).attr("fill", AXIS_COLOR)
    .text("Time [sec]");

  const yLabelX = PLOT_LEFT - 13 - maxW - 22;
  const yMid = (p.top + p.bottom) / 2;
  g.append("text")
    .attr("transform", `translate(${yLabelX},${yMid}) rotate(-90)`)
    .attr("text-anchor", "middle")
    .attr("font-size", 51).attr("fill", AXIS_COLOR)
    .text(p.label);

  // legend
  drawLegend(g, p.legend, p.series);
});

function legendText(g, tx, ty, item, raise) {
  const t = g.append("text")
    .attr("x", tx).attr("y", ty - (item.sub ? raise : 0))
    .attr("font-size", 42).attr("fill", "#000");
  t.append("tspan").text(item.main);
  if (item.sub) {
    t.append("tspan").attr("font-size", 40).attr("dx", 1).attr("dy", 21).text(item.sub);
    t.append("tspan").attr("dy", -21).text(")");
  }
}

function drawLegend(g, lg, series) {
  const lgG = g.append("g");
  if (lg.kind === "four") {
    const w = 1042, h = 150;
    lgG.append("rect").attr("x", lg.x).attr("y", lg.y).attr("width", w).attr("height", h)
      .attr("fill", "#fff").attr("stroke", AXIS_COLOR).attr("stroke-width", 2.4);
    // MATLAB fills the 2-column legend row by row
    const order = [series[0], series[2], series[1], series[3]];
    const cells = [
      { col: 0, row: 0 }, { col: 1, row: 0 }, { col: 0, row: 1 }, { col: 1, row: 1 }
    ];
    cells.forEach((c, k) => {
      const s = order[k];
      const ry = lg.y + (c.row === 0 ? 40 : 109);
      const lx0 = lg.x + (c.col === 0 ? 16 : 546);
      lgG.append("line")
        .attr("x1", lx0).attr("x2", lx0 + 167)
        .attr("y1", ry).attr("y2", ry)
        .attr("stroke", s.color).attr("stroke-width", 3)
        .attr("stroke-dasharray", s.dashed ? DASH : null);
      legendText(lgG, lx0 + 180, ry + 17, legendFour[k], 5);
    });
  } else {
    const w = 409, h = 124;
    lgG.append("rect").attr("x", lg.x).attr("y", lg.y).attr("width", w).attr("height", h)
      .attr("fill", "#fff").attr("stroke", AXIS_COLOR).attr("stroke-width", 2.4);
    series.forEach((s, k) => {
      const ry = lg.y + (k === 0 ? 35 : 90);
      lgG.append("line")
        .attr("x1", lg.x + 17).attr("x2", lg.x + 183)
        .attr("y1", ry).attr("y2", ry)
        .attr("stroke", s.color).attr("stroke-width", 3)
        .attr("stroke-dasharray", s.dashed ? DASH : null);
      legendText(lgG, lg.x + 196, ry + 17, legendTwo[k], 0);
    });
  }
}
</script>
</body>
</html>
